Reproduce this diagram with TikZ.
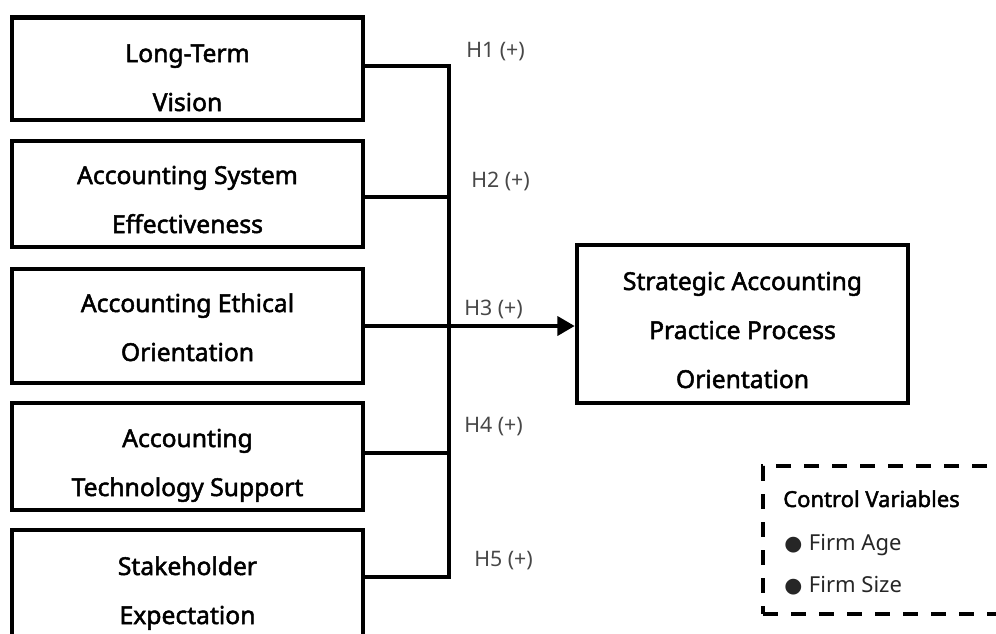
\documentclass[tikz,border=0pt]{standalone}
\usepackage{fontspec}
\setmainfont{Noto Sans}
\newfontfamily\boxfont[FakeBold=2]{Noto Sans}
\newfontfamily\dejavu{DejaVu Sans}
\usetikzlibrary{arrows.meta}
\begin{document}
\begin{tikzpicture}[x=0.75pt,y=-0.75pt,
  box/.style={draw, line width=3.3pt, minimum width=263.25pt, inner sep=0pt},
  boxtext/.style={anchor=base, align=center, inner sep=0pt, font=\boxfont\fontsize{18.5}{36.75}\selectfont},
  conn/.style={line width=3.3pt},
  hlab/.style={anchor=base west, inner sep=0pt, text=black!72, font=\fontsize{16}{18}\selectfont},
  ctext/.style={anchor=base west, inner sep=0pt, font=\fontsize{16.5}{18}\selectfont}]
\useasboundingbox (0,0) rectangle (996,633);
% predictor boxes
\node[box, minimum height=76.9pt] (b1) at (187.5,68.75) {};
\node[box, minimum height=79.5pt] (b2) at (187.5,194) {};
\node[box, minimum height=85.5pt] (b3) at (187.5,326) {};
\node[box, minimum height=80.25pt] (b4) at (187.5,456.5) {};
\node[box, minimum height=86.25pt] (b5) at (187.5,587.5) {};
\node[boxtext] (t1) at (187.5,111) {Long-Term\\Vision};
\node[boxtext] (t2) at (187.5,233) {Accounting System\\Effectiveness};
\node[boxtext] (t3) at (187.5,361) {Accounting Ethical\\Orientation};
\node[boxtext] (t4) at (187.5,496) {Accounting\\Technology Support};
\node[boxtext] (t5) at (187.5,624) {Stakeholder\\Expectation};
% target
\node[box, minimum width=248.25pt, minimum height=118.5pt] (tg) at (742.5,324) {};
\node[boxtext] (tt) at (742.5,388) {Strategic Accounting\\Practice Process\\Orientation};
% control box
\node[draw, line width=3.3pt, dash pattern=on 11.25pt off 9.75pt, minimum width=186pt, minimum height=111pt, inner sep=0pt] (cb) at (887,540) {};
\node[ctext, font=\boxfont\fontsize{16.5}{18}\selectfont] (c0) at (783,507) {Control Variables};
\node[ctext, text=black!85] (c1) at (784,550) {{\dejavu\fontsize{15.5}{16}\selectfont ●}\kern5pt Firm Age};
\node[ctext, text=black!85] (c2) at (784,592) {{\dejavu\fontsize{15.5}{16}\selectfont ●}\kern5pt Firm Size};
% bus
\coordinate (bt) at (449,66);
\coordinate (bb) at (449,577);
\draw[conn] (b1.east |- bt) -- (bt) -- (bb) -- (b5.east |- bb);
\draw[conn] (b2.east |- 0,197) -- (449,197);
\draw[conn] (b4.east |- 0,453) -- (449,453);
\draw[conn, -{Triangle[length=13pt,width=14pt]}] (b3.east) -- (tg.west |- b3.east);
% hypothesis labels
\node[hlab] (h1) at (466,57) {H1 (+)};
\node[hlab] (h2) at (471,187) {H2 (+)};
\node[hlab] (h3) at (464,315) {H3 (+)};
\node[hlab] (h4) at (464,432) {H4 (+)};
\node[hlab] (h5) at (474,566) {H5 (+)};
\end{tikzpicture}
\end{document}
